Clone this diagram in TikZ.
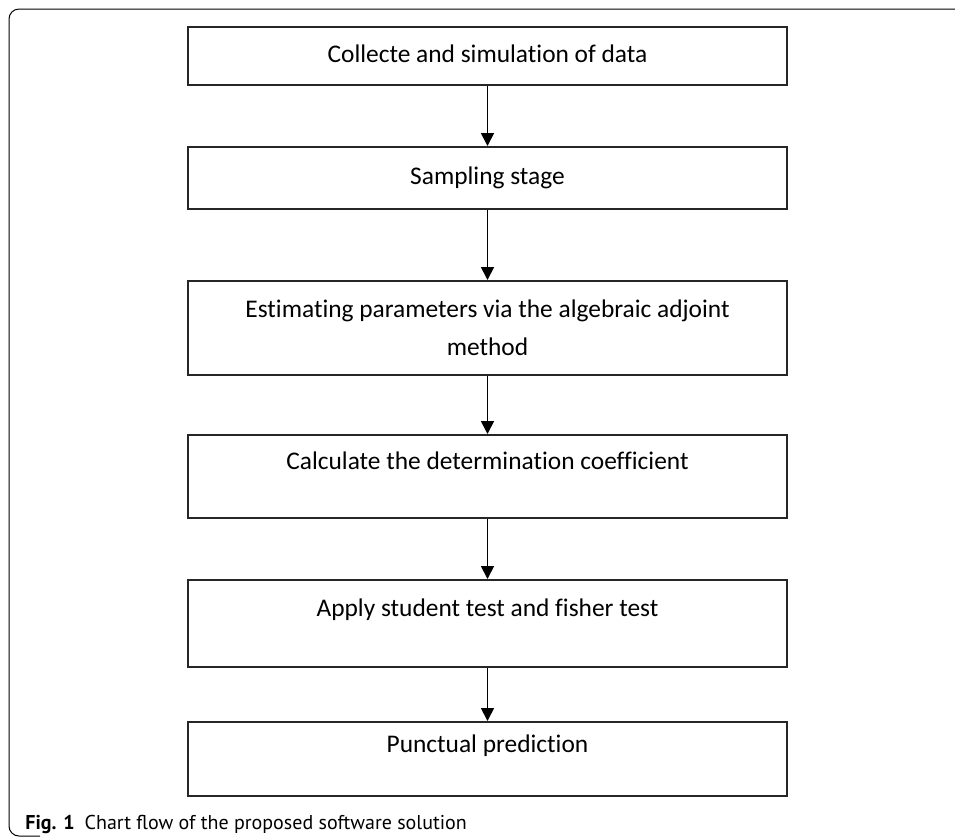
\documentclass[tikz,border=0pt]{standalone}
\usepackage{fontspec}
\setmainfont[Ligatures=NoCommon]{Carlito}
\newfontfamily\capfont{PT Sans}
\usetikzlibrary{arrows.meta}
\begin{document}
\begin{tikzpicture}[x=0.5pt,y=-0.5pt,
  stage/.style={draw=black!85, line width=1pt, shape=rectangle, minimum width=299.5pt,
    align=center, inner sep=0pt, font=\fontsize{12.7}{19}\selectfont},
  onetext/.style={text height=9pt, text depth=3pt},
  hightext/.style={text height=9pt, text depth=16pt},
  flow/.style={line width=0.9pt, -{Triangle[width=6.5pt,length=6.5pt]}}]
\useasboundingbox (0,0) rectangle (955,837);
% frame
\draw[line width=0.5pt, rounded corners=5pt] (960,9) -- (9,9) -- (9,836) -- (40,836);
\draw (487.5, 56) node[stage, onetext, minimum height=29pt] (a) {Collecte and simulation of data};
\draw (487.5, 178) node[stage, onetext, minimum height=31pt] (b) {Sampling stage};
\draw (487.5, 328) node[stage, minimum height=47pt] (c) {Estimating parameters via the algebraic adjoint\\method};
\draw (487.5, 476.5) node[stage, hightext, minimum height=41.5pt] (d) {Calculate the determination coefficient};
\draw (487.5, 623.5) node[stage, hightext, minimum height=43.5pt] (e) {Apply student test and fisher test};
\draw (487.5, 759) node[stage, hightext, minimum height=37pt] (f) {Punctual prediction};
\draw[flow] (a) -- (b);
\draw[flow] (b) -- (c);
\draw[flow] (c) -- (d);
\draw[flow] (d) -- (e);
\draw[flow] (e) -- (f);
\draw (25, 829) node[anchor=base west, inner sep=0pt, font=\capfont\fontsize{10}{12}\selectfont] (g) {\textbf{Fig. 1}\enspace Chart flow of the proposed software solution};
\end{tikzpicture}
\end{document}
